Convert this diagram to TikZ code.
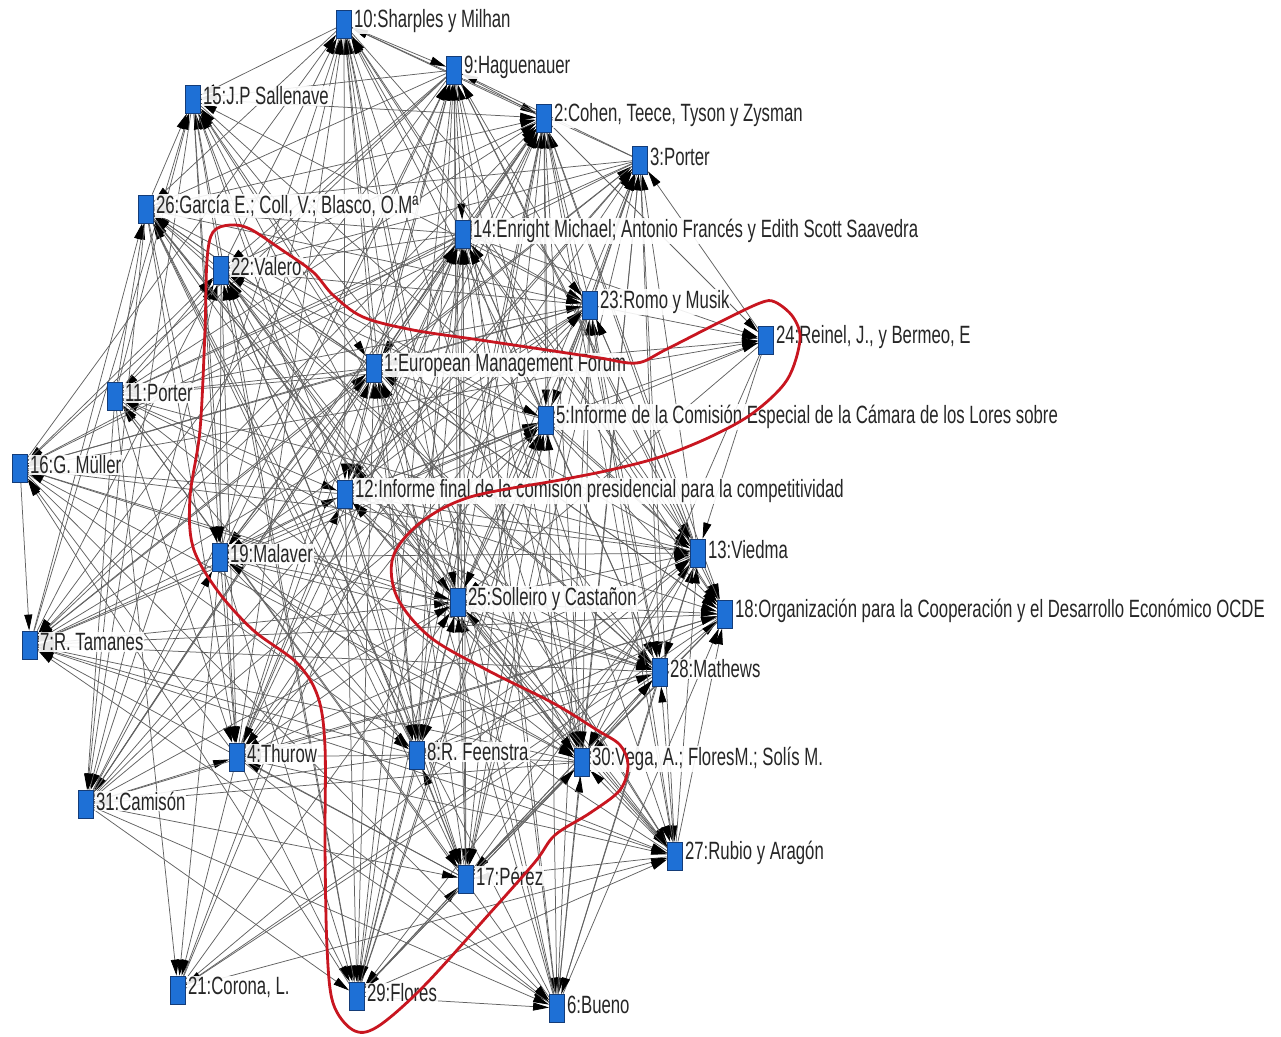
\documentclass[tikz,border=0pt]{standalone}
\usepackage{fontspec}
\setmainfont{Liberation Sans}
\usetikzlibrary{arrows.meta,backgrounds}
\definecolor{nodeblue}{RGB}{30,112,214}
\definecolor{nodeedge}{RGB}{20,60,120}
\definecolor{hull}{RGB}{200,22,32}
\newcommand\gnode[4]{%
  \node[sq] (n#1) at (#2,#3) {};
  \node[lbl, anchor=west] (l#1) at ([xshift=1pt,yshift=3pt]n#1.east) {\scalebox{0.67}[1]{#4}};
}
\begin{document}
\begin{tikzpicture}[x=1pt,y=-1pt,
  sq/.style={rectangle, fill=nodeblue, draw=nodeedge, line width=0.8pt, minimum width=15pt, minimum height=28pt, inner sep=0pt},
  lbl/.style={fill=white, fill opacity=0.9, text opacity=1, inner sep=1pt, font=\fontsize{25}{28}\selectfont, text=black!85},
  edge/.style={draw=black!62, line width=0.75pt, -{Triangle[length=16pt,width=8pt,color=black]}},
  hullline/.style={draw=hull, line width=2.8pt}]
\useasboundingbox (0,0) rectangle (1281,1036);

\gnode{10}{344}{24}{10:Sharples y Milhan}
\gnode{9}{454}{70}{9:Haguenauer}
\gnode{2}{544}{118}{2:Cohen, Teece, Tyson y Zysman}
\gnode{3}{640}{160}{3:Porter}
\gnode{15}{193}{99}{15:J.P Sallenave}
\gnode{26}{146}{209}{26:García E.; Coll, V.; Blasco, O.Mª}
\gnode{14}{463}{234}{14:Enright Michael; Antonio Francés y Edith Scott Saavedra}
\gnode{22}{221}{270}{22:Valero}
\gnode{23}{590}{305}{23:Romo y Musik}
\gnode{24}{766}{340}{24:Reinel, J., y Bermeo, E}
\gnode{1}{374}{368}{1:European Management Forum}
\gnode{11}{115}{396}{11:Porter}
\gnode{5}{546}{420}{5:Informe de la Comisión Especial de la Cámara de los Lores sobre}
\gnode{16}{20}{468}{16:G. Müller}
\gnode{12}{345}{494}{12:Informe final de la comisión presidencial para la competitividad}
\gnode{19}{220}{557}{19:Malaver}
\gnode{13}{698}{553}{13:Viedma}
\gnode{25}{458}{602}{25:Solleiro y Castañon}
\gnode{18}{725}{614}{18:Organización para la Cooperación y el Desarrollo Económico OCDE}
\gnode{7}{30}{645}{7:R. Tamanes}
\gnode{28}{660}{672}{28:Mathews}
\gnode{4}{237}{757}{4:Thurow}
\gnode{8}{417}{755}{8:R. Feenstra}
\gnode{30}{582}{762}{30:Vega, A.; FloresM.; Solís M.}
\gnode{31}{86}{804}{31:Camisón}
\gnode{27}{675}{856}{27:Rubio y Aragón}
\gnode{17}{466}{879}{17:Pérez}
\gnode{21}{178}{990}{21:Corona, L.}
\gnode{29}{357}{996}{29:Flores}
\gnode{6}{557}{1008}{6:Bueno}

\foreach \n/\w in {1/1,2/0.95,3/0.75,4/0.95,5/0.95,6/0.7,7/0.75,8/0.95,9/0.95,10/0.9,
  11/0.75,12/1,13/0.95,14/1,15/0.8,16/0.7,17/0.9,18/0.75,19/1,20/0,21/0.45,
  22/0.95,23/0.95,24/0.6,25/1,26/0.9,27/0.7,28/0.85,29/0.8,30/0.95,31/0.75}
  {\expandafter\xdef\csname w\n\endcsname{\w}}

\pgfmathsetseed{7}
\begin{pgfonlayer}{background}
\foreach \i in {1,...,31}{
  \foreach \j in {1,...,31}{
    \ifnum\i<\j
      \ifnum\i=20 \else\ifnum\j=20 \else
        \pgfmathsetmacro\p{1.05*\csname w\i\endcsname*\csname w\j\endcsname}
        \pgfmathsetmacro\r{rnd}
        \pgfmathsetmacro\d{rnd}
        \ifdim\r pt<\p pt
          \ifdim\d pt<0.5pt
            \draw[edge] (n\i) -- (n\j);
          \else
            \draw[edge] (n\j) -- (n\i);
          \fi
        \fi
      \fi\fi
    \fi
  }
}
\end{pgfonlayer}

\draw[hullline] plot[smooth cycle, tension=0.55] coordinates {
(213,232) (230,225) (250,229) (282,250) (313,272) (333,295) (363,317) (413,330)
(480,340) (547,350) (600,358) (637,363) (665,350) (720,322) (760,303) (775,302)
(793,317) (800,340) (787,380) (753,413) (710,437) (660,457) (610,470) (560,480)
(470,497) (420,523) (393,557) (397,597) (430,637) (487,670) (553,703) (597,730)
(620,745) (628,765) (620,790) (590,813) (555,835) (535,862) (490,913) (423,987)
(377,1027) (353,1030) (333,1003) (327,947) (325,847) (325,747) (318,697) (297,663)
(253,630) (217,590) (193,547) (190,497) (200,430) (205,330) (207,260)};
\end{tikzpicture}
\end{document}
